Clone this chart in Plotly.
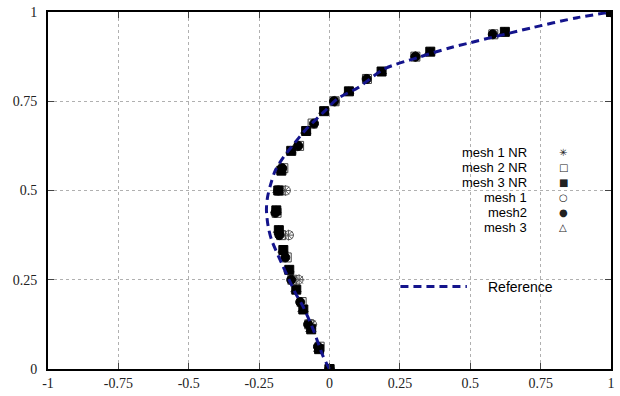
import plotly.graph_objects as go

# ---- data ----
ref_y = [0, 0.036, 0.111, 0.175, 0.214, 0.298, 0.362, 0.40, 0.446, 0.482, 0.52, 0.557, 0.593,
         0.621, 0.669, 0.721, 0.758, 0.788, 0.841, 0.872, 0.900, 0.914, 0.957, 0.984, 1.0]
ref_x = [0, -0.023, -0.058, -0.094, -0.122, -0.171, -0.206, -0.218, -0.224, -0.220, -0.208, -0.192,
         -0.164, -0.136, -0.086, -0.019, 0.030, 0.101, 0.196, 0.312, 0.429, 0.5, 0.725, 0.88, 1.0]

m1_y = [0, 0.125, 0.25, 0.375, 0.5, 0.625, 0.75, 0.875, 1.0]
m1nr_x = [0, -0.063, -0.108, -0.146, -0.157, -0.113, 0.019, 0.305, 1.0]
m1_x = [0, -0.062, -0.110, -0.144, -0.155, -0.112, 0.020, 0.306, 1.0]

m2_y = [0, 0.0625, 0.125, 0.1875, 0.25, 0.3125, 0.375, 0.4375, 0.5, 0.5625, 0.625, 0.6875,
        0.75, 0.8125, 0.875, 0.9375, 1.0]
m2nr_x = [0, -0.035, -0.072, -0.099, -0.132, -0.152, -0.172, -0.188, -0.178, -0.164, -0.108,
          -0.060, 0.018, 0.133, 0.305, 0.582, 1.0]
m2_x = [0, -0.041, -0.076, -0.104, -0.136, -0.157, -0.178, -0.192, -0.182, -0.168, -0.111,
        -0.055, 0.016, 0.132, 0.305, 0.580, 1.0]

m3_y = [0, 0.0556, 0.1111, 0.1667, 0.2222, 0.2778, 0.3333, 0.3889, 0.4444, 0.5, 0.5556, 0.6111,
        0.6667, 0.7222, 0.7778, 0.8333, 0.8889, 0.9444, 1.0]
m3nr_x = [0, -0.037, -0.065, -0.093, -0.118, -0.143, -0.164, -0.180, -0.189, -0.182, -0.171,
          -0.136, -0.083, -0.019, 0.069, 0.185, 0.358, 0.623, 1.0]
m3_x = [0, -0.038, -0.066, -0.094, -0.119, -0.144, -0.165, -0.181, -0.190, -0.183, -0.172,
        -0.137, -0.084, -0.020, 0.068, 0.184, 0.357, 0.622, 1.0]

legend_names = ["mesh 1 NR", "mesh 2 NR", "mesh 3 NR", "mesh 1", "mesh2", "mesh 3"]
legend_syms = ["✳", "□", "■", "○", "●", "△"]
x_ticks = [-1, -0.75, -0.5, -0.25, 0, 0.25, 0.5, 0.75, 1]
y_ticks = [0, 0.25, 0.5, 0.75, 1]

fig = go.Figure()

def add(x, y, symbol, color="black", size=9, lw=1):
    fig.add_trace(go.Scatter(x=x, y=y, mode="markers", showlegend=False,
                             marker=dict(symbol=symbol, size=size, color=color,
                                         line=dict(color=color, width=lw))))

add(m3_x, m3_y, "triangle-up-open", "#333333")
add(m1_x, m1_y, "circle-open", "#555555")
add(m1nr_x, m1_y, "asterisk-open", "#555555")
add(m2nr_x, m2_y, "square-open", "#444444")
add(m2_x, m2_y, "circle", "black", 9)
add(m3nr_x, m3_y, "square", "black", 9)

fig.add_trace(go.Scatter(x=ref_x, y=ref_y, mode="lines", showlegend=False,
                         line=dict(color="#14148c", width=3, dash="8px,5px", shape="spline",
                                   smoothing=0.8)))

# legend as annotations
row_py = [152, 167, 182, 198, 213, 228]
for name, sym, py in zip(legend_names, legend_syms, row_py):
    yp = (370 - py) / 359
    fig.add_annotation(xref="paper", yref="paper", x=0.852, y=yp, text=name, showarrow=False,
                       xanchor="right", yanchor="middle", borderpad=0,
                       font=dict(family="Liberation Sans", size=13, color="black"))
    fig.add_annotation(xref="paper", yref="paper", x=0.915, y=yp, text=sym, showarrow=False,
                       xanchor="center", yanchor="middle", borderpad=0,
                       font=dict(family="DejaVu Sans", size=10, color="#222222"))

fig.add_shape(type="line", xref="paper", yref="paper", x0=0.626, x1=0.744,
              y0=0.231, y1=0.231, line=dict(color="#14148c", width=3, dash="8px,5px"))
fig.add_annotation(xref="paper", yref="paper", x=0.778, y=0.231, text="Reference",
                   showarrow=False, xanchor="left", yanchor="middle",
                   font=dict(family="Liberation Sans", size=14, color="black"))

axis_common = dict(showgrid=True, gridcolor="#b0b0b0", griddash="dot", gridwidth=1,
                   zeroline=False, showline=True, linecolor="black", linewidth=2,
                   mirror="allticks", ticks="inside", ticklen=6, tickcolor="#444444",
                   tickfont=dict(family="Liberation Serif", size=14, color="#222222"))

fig.update_xaxes(range=[-1, 1], tickvals=x_ticks,
                 ticktext=["-1", "-0.75", "-0.5", "-0.25", "0", "0.25", "0.5", "0.75", "1"],
                 **axis_common)
fig.update_yaxes(range=[0, 1], tickvals=y_ticks,
                 ticktext=["0", "0.25", "0.5", "0.75", "1"], ticklabelstandoff=6, **axis_common)

fig.update_layout(width=620, height=396, margin=dict(l=48, r=5, t=11, b=26),
                  plot_bgcolor="white", paper_bgcolor="white")

fig.write_html("out.html")
